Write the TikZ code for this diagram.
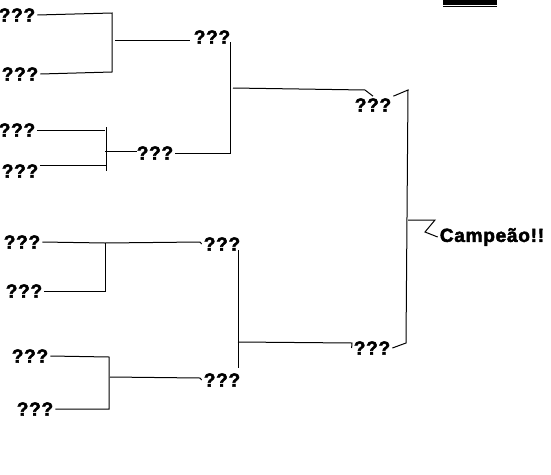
\documentclass[tikz,border=0pt]{standalone}
\usepackage{fontspec}
\setmainfont{Liberation Sans}
\newfontfamily\lblfont[LetterSpace=4,FakeBold=2.5]{Liberation Sans}
\begin{document}
\begin{tikzpicture}[x=1pt,y=-1pt,
  lbl/.style={inner sep=2pt,font=\lblfont\bfseries\fontsize{19}{19}\selectfont},
  wire/.style={line width=1pt,black}]
\useasboundingbox (0,0) rectangle (551,474);
% labels
\node[lbl] (t1) at (17,15) {???};
\node[lbl] (t2) at (20,74) {???};
\node[lbl] (t3) at (17,130) {???};
\node[lbl] (t4) at (20,171) {???};
\node[lbl] (t5) at (22,242) {???};
\node[lbl] (t6) at (24,291) {???};
\node[lbl] (t7) at (30,356) {???};
\node[lbl] (t8) at (35,409) {???};
\node[lbl] (s1) at (212,37) {???};
\node[lbl] (s2) at (155,153) {???};
\node[lbl] (s3) at (222,244) {???};
\node[lbl] (s4) at (222,380) {???};
\node[lbl] (f1) at (373,105) {???};
\node[lbl] (f2) at (372,348) {???};
\node[lbl] (champ) at (492,237) {Campeão!!};
% junction coordinates
\coordinate (a1) at (112,13); \coordinate (a2) at (112,72);
\coordinate (b1) at (115,40); \coordinate (b2) at (190,40);
\coordinate (c1) at (105,130); \coordinate (c2) at (107,165);
\coordinate (c3) at (106,127); \coordinate (c4) at (106,171);
\coordinate (c5) at (105,151); \coordinate (c6) at (137,151);
\coordinate (d1) at (230,153); \coordinate (d2) at (230,42);
\coordinate (e1) at (233,88); \coordinate (e2) at (365,90);
\coordinate (g1) at (408,90); \coordinate (g2) at (406,343);
\coordinate (h1) at (408,220); \coordinate (h2) at (435,220); \coordinate (h3) at (425,232);
\coordinate (k1) at (105,243); \coordinate (k2) at (200,242); \coordinate (k3) at (105,291);
\coordinate (m1) at (109,357); \coordinate (m2) at (109,409);
\coordinate (m3) at (110,377); \coordinate (m4) at (200,378);
\coordinate (n1) at (238,250); \coordinate (n2) at (238,368);
\coordinate (n3) at (238,342); \coordinate (n4) at (352,343);
% quarter-final brackets
\draw[wire] (t1.east) -- (a1) -- (a2) -- (t2.east);
\draw[wire] (b1) -- (b2);
\draw[wire] (t3.east) -- (c1);
\draw[wire] (t4.east |- c2) -- (c2);
\draw[wire] (c3) -- (c4);
\draw[wire] (c5) -- (c6);
\draw[wire] (t5.east) -- (k1) -- (k2) -- (s3.west);
\draw[wire] (k1) -- (k3) -- (t6.east);
\draw[wire] (t7.east) -- (m1) -- (m2) -- (t8.east);
\draw[wire] (m3) -- (m4) -- (s4.west);
% semi-final brackets
\draw[wire] (s2.east) -- (d1) -- (d2);
\draw[wire] (e1) -- (e2) -- (f1.north);
\draw[wire] (n1) -- (n2);
\draw[wire] (n3) -- (n4) -- (f2.west);
% final
\draw[wire] (f1.north east) -- (g1) -- (g2) -- (f2.east);
\draw[wire] (h1) -- (h2) -- (h3) -- (champ.west);
% top bar
\fill[black] (443,0) rectangle (497,5);
\draw[line width=0.6pt] (443,6.5) -- (497,6.5);
\end{tikzpicture}
\end{document}
